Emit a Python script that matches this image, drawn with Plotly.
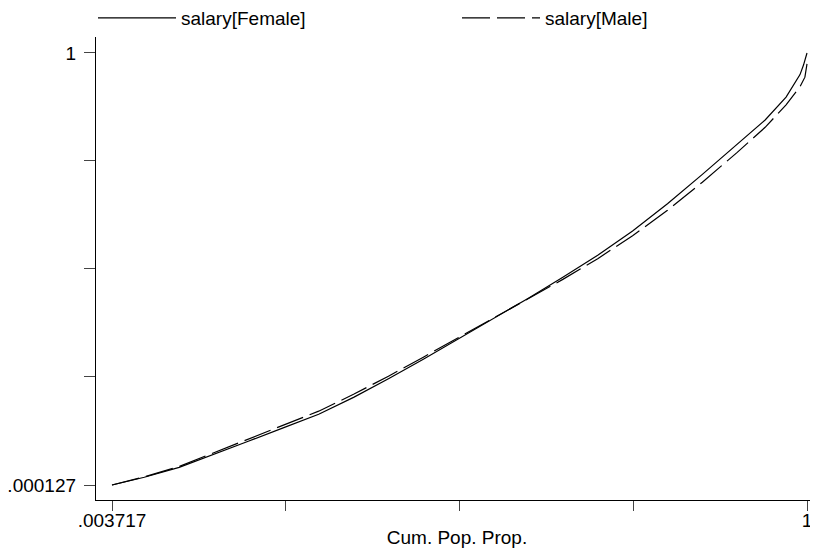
import plotly.graph_objects as go

# Cumulative population proportion (x) and cumulative salary share (y)
cum_pop = [0.003717, 0.05, 0.10, 0.15, 0.20, 0.25, 0.30, 0.35, 0.40, 0.45, 0.50,
           0.55, 0.60, 0.65, 0.70, 0.75, 0.80, 0.85, 0.90, 0.94, 0.97, 0.99, 0.995, 1.0]
salary_female = [0.000127, 0.018, 0.041, 0.071, 0.102, 0.133, 0.164, 0.203, 0.246, 0.291, 0.338,
                 0.384, 0.432, 0.481, 0.532, 0.588, 0.651, 0.719, 0.788, 0.845, 0.898, 0.950, 0.972, 1.0]
cum_pop_m = [0.003717, 0.05, 0.10, 0.15, 0.20, 0.25, 0.30, 0.35, 0.40, 0.45, 0.50,
             0.55, 0.60, 0.65, 0.70, 0.75, 0.80, 0.85, 0.90, 0.94, 0.97, 0.99, 0.997, 1.0]
salary_male = [0.000127, 0.019, 0.043, 0.075, 0.107, 0.139, 0.171, 0.210, 0.252, 0.296, 0.341,
               0.385, 0.430, 0.476, 0.524, 0.577, 0.636, 0.701, 0.770, 0.828, 0.880, 0.922, 0.944, 0.975]

x_tickvals = [0.003717, 0.2528, 0.5019, 0.7509, 1.0]
x_ticktext = [".003717", "", "", "", "1"]
y_tickvals = [0.000127, 0.2501, 0.5001, 0.7501, 1.0]
y_ticktext = [".000127", "", "", "", "1"]

FONT = "Arial, 'Liberation Sans', sans-serif"

fig = go.Figure()
fig.add_trace(go.Scatter(x=cum_pop, y=salary_female, mode="lines", name="salary[Female]",
                         line=dict(color="black", width=1.2)))
fig.add_trace(go.Scatter(x=cum_pop_m, y=salary_male, mode="lines", name="salary[Male]",
                         line=dict(color="black", width=1.2, dash="28px,7px")))

# the page body adds an 8px offset, so the figure is 810x546 and margins are reduced by 8
fig.update_layout(
    width=810, height=546,
    margin=dict(l=88, r=0, t=29, b=54, autoexpand=False),
    paper_bgcolor="white", plot_bgcolor="white",
    font=dict(family=FONT, size=19, color="black"),
    showlegend=True,
    legend=dict(orientation="h", x=-3 / 722, xanchor="left", y=1.0, yanchor="bottom",
                bgcolor="rgba(0,0,0,0)", borderwidth=0,
                itemwidth=78, entrywidth=271, entrywidthmode="pixels",
                font=dict(family=FONT, size=19, color="black"), tracegroupgap=0),
    xaxis=dict(range=[-0.01922, 1.01577], showgrid=False, zeroline=False,
               showline=True, linecolor="black", linewidth=1.3,
               ticks="outside", ticklen=10, tickwidth=1.2, tickcolor="#444",
               tickvals=x_tickvals, ticktext=x_ticktext, automargin=False,
               ticklabelstandoff=-7,
               tickfont=dict(family=FONT, size=19, color="black"),
               title=dict(text="Cum. Pop. Prop.", font=dict(family=FONT, size=19, color="black"),
                          standoff=0)),
    yaxis=dict(range=[-0.03459, 1.037], showgrid=False, zeroline=False,
               showline=True, linecolor="black", linewidth=1.3,
               ticks="outside", ticklen=11, tickwidth=1.2, tickcolor="#444",
               tickvals=y_tickvals, ticktext=y_ticktext, automargin=False,
               ticklabelstandoff=4,
               tickfont=dict(family=FONT, size=19, color="black")),
)

fig.write_html("out.html")
